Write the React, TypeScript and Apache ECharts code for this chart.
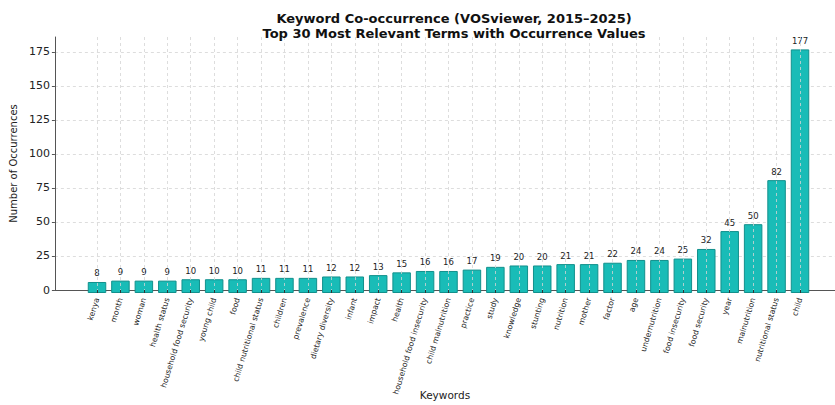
import React, { useEffect, useRef } from "react";
import * as echarts from "echarts";

const keywords = [
  "kenya", "month", "woman", "health status", "household food security", "young child", "food",
  "child nutritional status", "children", "prevalence", "dietary diversity", "infant", "impact", "health",
  "household food insecurity", "child malnutrition", "practice", "study", "knowledge", "stunting",
  "nutrition", "mother", "factor", "age", "undernutrition", "food insecurity", "food security",
  "year", "malnutrition", "nutritional status", "child",
];
const occurrences = [
  8, 9, 9, 9, 10, 10, 10, 11, 11, 11, 12, 12, 13, 15, 16, 16, 17, 19, 20, 20,
  21, 21, 22, 24, 24, 25, 32, 45, 50, 82, 177,
];
const yTicks = { min: 0, max: 186, interval: 25 };

const FONT = "DejaVu Sans";

export default function App() {
  const ref = useRef<HTMLDivElement>(null);
  useEffect(() => {
    const chart = echarts.init(ref.current!, null, { renderer: "svg" });
    const top = 37;
    const bottom = 405 - 293;
    chart.setOption({
      animation: false,
      backgroundColor: "#ffffff",
      textStyle: { fontFamily: FONT },
      title: {
        text: "Keyword Co-occurrence (VOSviewer, 2015–2025)\nTop 30 Most Relevant Terms with Occurrence Values",
        left: 449,
        top: 6,
        textAlign: "center",
        textStyle: { fontFamily: FONT, fontSize: 13, fontWeight: "bold", color: "#111", lineHeight: 15 },
      },
      grid: [
        { left: 97, right: 835 - 800, top, bottom, containLabel: false },
        { left: 53, right: -12, top, bottom, containLabel: false },
      ],
      xAxis: [
        {
          type: "category",
          gridIndex: 0,
          data: keywords,
          boundaryGap: false,
          axisLine: { show: false },
          axisTick: { show: true, inside: true, length: 3, lineStyle: { color: "#333" }, alignWithLabel: true },
          axisLabel: {
            interval: 0,
            rotate: 73,
            fontSize: 7.8,
            color: "#222",
            fontFamily: FONT,
            margin: 5,
          },
          splitLine: { show: true, lineStyle: { color: "#d4d4d4", type: [3, 3], width: 0.8 } },
          z: 5,
        },
        {
          type: "value",
          gridIndex: 1,
          min: 0,
          max: 1,
          axisLine: { show: true, lineStyle: { color: "#555", width: 1 } },
          axisTick: { show: false },
          axisLabel: { show: false },
          splitLine: { show: false },
          name: "Keywords",
          nameLocation: "middle",
          nameGap: 99,
          nameTextStyle: { fontFamily: FONT, fontSize: 10.5, color: "#222" },
        },
      ],
      yAxis: [
        {
          type: "value",
          gridIndex: 0,
          min: yTicks.min,
          max: yTicks.max,
          interval: yTicks.interval,
          axisLine: { show: false },
          axisTick: { show: false },
          axisLabel: { show: false },
          splitLine: { show: false },
        },
        {
          type: "value",
          gridIndex: 1,
          min: yTicks.min,
          max: yTicks.max,
          interval: yTicks.interval,
          axisLine: { show: true, lineStyle: { color: "#555", width: 1 } },
          axisTick: { show: true, length: 3, lineStyle: { color: "#555" } },
          axisLabel: { fontSize: 11, color: "#222", fontFamily: FONT, margin: 5, showMaxLabel: false },
          splitLine: { show: true, showMaxLine: false, lineStyle: { color: "#d4d4d4", type: [3, 3], width: 0.8 } },
          name: "Number of Occurrences",
          nameLocation: "middle",
          nameGap: 33,
          nameTextStyle: { fontFamily: FONT, fontSize: 10, color: "#222" },
        },
      ],
      series: [
        {
          type: "bar",
          xAxisIndex: 0,
          yAxisIndex: 0,
          data: occurrences,
          barWidth: 18.5,
          clip: false,
          itemStyle: { color: "#19bcb7", borderColor: "#12908c", borderWidth: 1 },
          label: {
            show: true,
            position: "top",
            distance: 4,
            fontSize: 8.5,
            color: "#222",
            fontFamily: FONT,
          },
          z: 3,
        },
      ],
    });
    return () => chart.dispose();
  }, []);
  return <div ref={ref} style={{ width: 835, height: 405, position: "absolute", left: 0, top: 0 }} />;
}
